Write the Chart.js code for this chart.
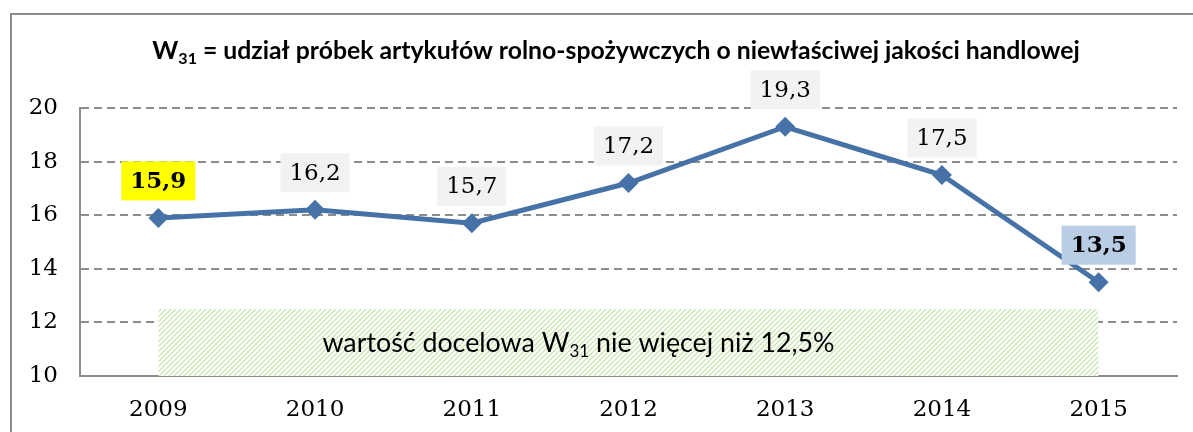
<!DOCTYPE html>
<html>
<head>
<meta charset="utf-8">
<script src="https://cdn.jsdelivr.net/npm/chart.js@4"></script>
<style>
  html, body { margin: 0; padding: 0; background: #fff; overflow: hidden; }
</style>
</head>
<body>
<canvas id="w31Chart" width="1193" height="432"></canvas>
<script>
var years = ['2009', '2010', '2011', '2012', '2013', '2014', '2015'];
var shareValues = [15.9, 16.2, 15.7, 17.2, 19.3, 17.5, 13.5];
var yTicks = [10, 12, 14, 16, 18, 20];
var targetValue = 12.5;

var titleMain = 'W';
var titleSub = '31';
var titleRest = ' = udział próbek artykułów rolno-spożywczych o niewłaściwej jakości handlowej';

// label boxes: which years get a coloured, bold box
var highlight = { '2009': '#ffff00', '2015': '#b9cde5' };

var serif = '"DejaVu Serif", "Liberation Serif", serif';
var sans = 'Lato, "Open Sans", sans-serif';

function fmt(v) {
    return String(v).replace('.', ',');
}

function hatchPattern() {
    var c = document.createElement('canvas');
    c.width = 5; c.height = 5;
    var g = c.getContext('2d');
    g.fillStyle = '#ffffff';
    g.fillRect(0, 0, 5, 5);
    g.strokeStyle = '#c2e3a2';
    g.lineWidth = 1.2;
    g.beginPath();
    g.moveTo(-1, 6); g.lineTo(6, -1);
    g.moveTo(-1, 1); g.lineTo(1, -1);
    g.moveTo(4, 6); g.lineTo(6, 4);
    g.stroke();
    return document.getElementById('w31Chart').getContext('2d').createPattern(c, 'repeat');
}

function partsWidth(ctx, parts, size, weight) {
    var subSize = Math.round(size * 0.65);
    return parts.map(function (p) {
        ctx.font = weight + ' ' + (p.sub ? subSize : size) + 'px ' + sans;
        return ctx.measureText(p.t).width;
    });
}

// draws text pieces, "sub" pieces as subscript; size fitted to a target width
function drawSubText(ctx, parts, x, y, targetW, weight) {
    var w0 = partsWidth(ctx, parts, 20, weight).reduce(function (a, b) { return a + b; }, 0);
    var size = 20 * targetW / w0;
    var subSize = Math.round(size * 0.65);
    var widths = partsWidth(ctx, parts, size, weight);
    var total = widths.reduce(function (a, b) { return a + b; }, 0);
    var cx = x - total / 2;
    ctx.textAlign = 'left';
    ctx.textBaseline = 'alphabetic';
    parts.forEach(function (p, i) {
        ctx.font = weight + ' ' + (p.sub ? subSize : size) + 'px ' + sans;
        ctx.fillText(p.t, cx, p.sub ? y + size * 0.22 : y);
        cx += widths[i];
    });
}

var decorPlugin = {
    id: 'decor',
    beforeDraw: function (chart) {
        var ctx = chart.ctx;
        ctx.save();
        ctx.strokeStyle = '#8c8c8c';
        ctx.lineWidth = 2;
        ctx.strokeRect(11, 14, 1300, 600);
        ctx.restore();
    },
    afterDraw: function (chart) {
        var ctx = chart.ctx;
        var xs = chart.scales.x, ys = chart.scales.y;
        ctx.save();
        ctx.fillStyle = '#000';
        drawSubText(ctx, [{ t: titleMain }, { t: titleSub, sub: true }, { t: titleRest }],
            616, 59, 928, 'bold');

        // target annotation inside hatched area
        var midX = (xs.getPixelForValue(0) + xs.getPixelForValue(years.length - 1)) / 2;
        var yMid = (ys.getPixelForValue(targetValue) + ys.getPixelForValue(ys.min)) / 2;
        drawSubText(ctx, [
            { t: 'wartość docelowa W' }, { t: '31', sub: true },
            { t: ' nie więcej niż ' + fmt(targetValue) + '%' }
        ], midX - 50, yMid + 9, 513, 'normal');
        ctx.restore();
    },
    afterDatasetsDraw: function (chart) {
        var ctx = chart.ctx;
        var meta = chart.getDatasetMeta(1);
        ctx.save();
        meta.data.forEach(function (pt, i) {
            var yr = years[i];
            var bold = !!highlight[yr];
            var txt = fmt(shareValues[i]);
            ctx.font = (bold ? 'bold ' : '') + '23px ' + serif;
            var tw = ctx.measureText(txt).width;
            var bw = tw + 18, bh = 39;
            var cy = pt.y - 37;
            ctx.fillStyle = highlight[yr] || '#f2f2f2';
            ctx.fillRect(pt.x - bw / 2, cy - bh / 2, bw, bh);
            ctx.fillStyle = '#000';
            ctx.textAlign = 'center';
            ctx.textBaseline = 'middle';
            ctx.fillText(txt, pt.x, cy + 1);
        });
        ctx.restore();
    }
};

var ctx1 = document.getElementById('w31Chart').getContext('2d');
var w31Chart = new Chart(ctx1, {
    type: 'line',
    data: {
        labels: years,
        datasets: [{
            label: 'cel',
            data: years.map(function () { return targetValue; }),
            borderWidth: 0,
            borderColor: 'rgba(0,0,0,0)',
            backgroundColor: hatchPattern(),
            fill: 'start',
            pointRadius: 0,
            order: 2
        }, {
            label: 'W31',
            data: shareValues,
            borderColor: '#4672a8',
            backgroundColor: '#4672a8',
            borderWidth: 5,
            pointStyle: 'rectRot',
            pointRadius: 10,
            pointBorderWidth: 0,
            tension: 0,
            fill: false,
            clip: false,
            order: 1
        }]
    },
    options: {
        responsive: false,
        animation: false,
        layout: { padding: { left: 0, top: 108, right: 16, bottom: 0 } },
        plugins: {
            legend: { display: false },
            tooltip: { enabled: false },
            title: { display: false }
        },
        scales: {
            x: {
                offset: true,
                grid: { display: false, drawTicks: false },
                border: { display: true, color: '#8c8c8c', width: 2 },
                ticks: { color: '#000', font: { family: serif, size: 23 }, padding: 20 },
                afterFit: function (s) { s.height = 56; }
            },
            y: {
                min: 10,
                max: 20,
                afterBuildTicks: function (s) { s.ticks = yTicks.map(function (v) { return { value: v }; }); },
                grid: { color: '#8c8c8c', lineWidth: 2, drawTicks: false },
                border: { display: true, color: '#8c8c8c', width: 2, dash: [8, 5] },
                ticks: { color: '#000', font: { family: serif, size: 23 }, padding: 22 },
                afterFit: function (s) { s.width = 80; }
            }
        }
    },
    plugins: [decorPlugin]
});
</script>
</body>
</html>
